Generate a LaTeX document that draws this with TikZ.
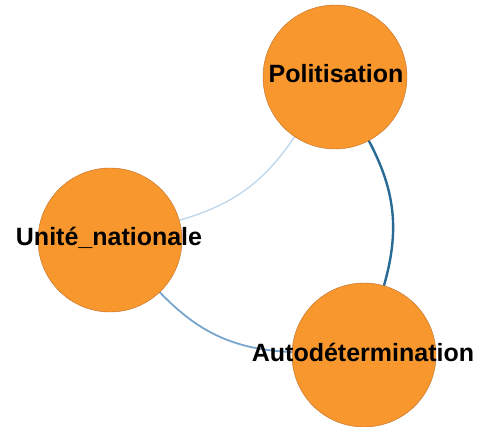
\documentclass[tikz,border=0pt]{standalone}
\usepackage{fontspec}
\setmainfont{Liberation Sans}
\usetikzlibrary{backgrounds}
\definecolor{nodeorange}{RGB}{248,151,46}
\definecolor{nodeedge}{RGB}{190,110,40}
\definecolor{elight}{RGB}{190,213,235}
\definecolor{emid}{RGB}{120,165,205}
\definecolor{edark}{RGB}{40,105,150}
\tikzset{
  vertex/.style={circle, fill=nodeorange, draw=nodeedge, line width=0.4pt, minimum size=144pt, inner sep=0pt},
  lab/.style={font=\bfseries\fontsize{25}{25}\selectfont, text=black, inner sep=0pt},
  link/.style={line cap=round}
}
\begin{document}
\begin{tikzpicture}[x=1pt, y=-1pt]
\useasboundingbox (0,0) rectangle (487,427);
\node[vertex] (pol) at (335,77) {};
\node[vertex] (uni) at (110,240) {};
\node[vertex] (aut) at (364,355) {};
\begin{scope}[on background layer]
  \draw[link, elight, line width=1.3pt] (uni) to[bend right=20] (pol);
  \draw[link, emid, line width=1.8pt] (uni) to[bend right=22] (aut);
  \draw[link, edark, line width=2.4pt] (aut) to[bend right=22] (pol);
\end{scope}
\node[lab] (tpol) at (336,74) {Politisation};
\node[lab] (tuni) at (109,238) {Unité\_nationale};
\node[lab] (taut) at (363,352) {Autodétermination};
\end{tikzpicture}
\end{document}
